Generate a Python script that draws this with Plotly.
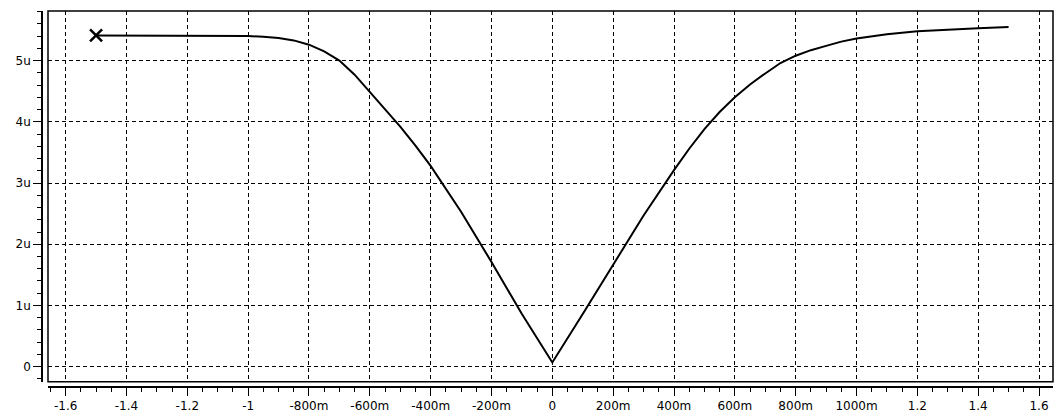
import plotly.graph_objects as go

# Data (x in V, y in A)
x_vals = [-1.5, -1.4, -1.3, -1.2, -1.1, -1.0, -0.95, -0.9, -0.85, -0.8, -0.75, -0.7, -0.65, -0.6, -0.55,
          -0.5, -0.45, -0.4, -0.3, -0.2, -0.1,
          0.0, 0.1, 0.2, 0.3, 0.4, 0.45, 0.5, 0.55, 0.6, 0.65, 0.7, 0.75, 0.8, 0.85, 0.9, 0.95,
          1.0, 1.05, 1.1, 1.2, 1.3, 1.4, 1.5]
y_micro = [5.41, 5.41, 5.41, 5.41, 5.41, 5.40, 5.39, 5.37, 5.33, 5.26, 5.15, 5.00, 4.77, 4.49, 4.21,
           3.92, 3.61, 3.28, 2.53, 1.71, 0.86,
           0.07, 0.86, 1.66, 2.47, 3.21, 3.56, 3.88, 4.16, 4.40, 4.61, 4.79, 4.96, 5.08, 5.17, 5.24, 5.31,
           5.36, 5.40, 5.43, 5.48, 5.51, 5.53, 5.55]
y_vals = [v * 1e-6 for v in y_micro]

marker_x = [-1.5]
marker_y = [5.41e-6]

x_tickvals = [-1.6, -1.4, -1.2, -1.0, -0.8, -0.6, -0.4, -0.2, 0.0, 0.2, 0.4, 0.6, 0.8, 1.0, 1.2, 1.4, 1.6]
x_ticktext = ["-1.6", "-1.4", "-1.2", "-1", "-800m", "-600m", "-400m", "-200m", "0",
              "200m", "400m", "600m", "800m", "1000m", "1.2", "1.4", "1.6"]
y_tickvals = [0, 1e-6, 2e-6, 3e-6, 4e-6, 5e-6]
y_ticktext = ["0", "1u", "2u", "3u", "4u", "5u"]

font = dict(family="DejaVu Sans", size=12, color="black")

fig = go.Figure()
fig.add_trace(go.Scatter(x=x_vals, y=y_vals, mode="lines",
                         line=dict(color="black", width=2), showlegend=False))
fig.add_trace(go.Scatter(x=marker_x, y=marker_y, mode="markers",
                         marker=dict(symbol="x-thin", size=12, color="black",
                                     line=dict(color="black", width=2.5)),
                         showlegend=False))

W, H = 1056, 416
ml, mr, mt, mb = 42, 3, 11, 29
pw = W - ml - mr
ph = H - mt - mb

fig.update_layout(
    width=W, height=H,
    margin=dict(l=ml, r=mr, t=mt, b=mb),
    paper_bgcolor="white", plot_bgcolor="white",
    font=font,
    xaxis=dict(
        domain=[6 / pw, 1], range=[-1.658, 1.646],
        anchor="free", position=0, automargin=False,
        tickmode="array", tickvals=x_tickvals, ticktext=x_ticktext,
        showline=True, linecolor="black", linewidth=1.5,
        ticks="outside", ticklen=8, tickwidth=1, tickcolor="black",
        showgrid=True, gridcolor="black", gridwidth=1, griddash="4px,3px",
        zeroline=False,
        minor=dict(tickmode="linear", tick0=0, dtick=0.05, ticks="outside",
                   ticklen=4, tickcolor="black", showgrid=False),
        tickfont=font,
    ),
    yaxis=dict(
        domain=[(ph - (381.7 - mt)) / ph, 1], range=[-0.245e-6, 5.81e-6],
        anchor="free", position=0, automargin=False,
        tickmode="array", tickvals=y_tickvals, ticktext=y_ticktext,
        showline=True, linecolor="black", linewidth=1.5,
        ticks="outside", ticklen=8, tickwidth=1, tickcolor="black",
        showgrid=True, gridcolor="black", gridwidth=1, griddash="4px,3px",
        zeroline=False,
        minor=dict(tickmode="linear", tick0=0, dtick=0.2e-6, ticks="outside",
                   ticklen=4, tickcolor="black", showgrid=False),
        tickfont=font,
    ),
    shapes=[dict(type="rect", xref="x domain", yref="y domain", x0=0, x1=1, y0=0, y1=1,
                 line=dict(color="black", width=1.5), layer="above")],
)

fig.write_html("out.html", config={"displayModeBar": False},
               post_script="document.body.style.margin='0';document.body.style.overflow='hidden';")
